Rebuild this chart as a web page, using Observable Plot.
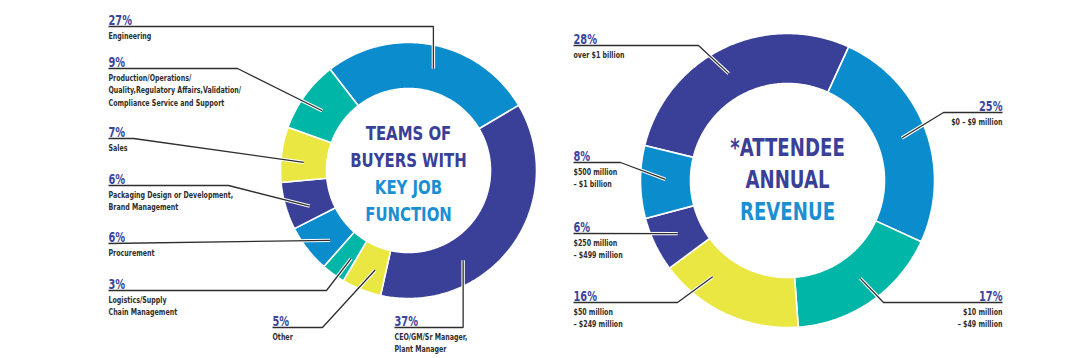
<!DOCTYPE html>
<html><head><meta charset="utf-8">
<script src="https://cdn.jsdelivr.net/npm/d3@7"></script>
<script src="https://cdn.jsdelivr.net/npm/@observablehq/plot@0.6"></script>
<style>html,body{margin:0;padding:0;background:#fff;}#chart svg{display:block}</style>
</head><body><div id="chart"></div>
<script>
// ---------- data ----------
const jobCategories = [
  "Engineering",
  "CEO/GM/Sr Manager,\nPlant Manager",
  "Other",
  "Logistics/Supply\nChain Management",
  "Procurement",
  "Packaging Design or Development,\nBrand Management",
  "Sales",
  "Production/Operations/\nQuality,Regulatory Affairs,Validation/\nCompliance Service and Support"
];
const jobShares = [27, 37, 5, 3, 6, 6, 7, 9];
const jobTitle = ["TEAMS OF", "BUYERS WITH", "KEY JOB", "FUNCTION"];

const revenueCategories = [
  "over $1 billion",
  "$0 – $9 million",
  "$10 million\n– $49 million",
  "$50 million\n– $249 million",
  "$250 million\n– $499 million",
  "$500 million\n– $1 billion"
];
const revenueShares = [28, 25, 17, 16, 6, 8];
const revenueTitle = ["*ATTENDEE", "ANNUAL", "REVENUE"];

// ---------- styles / layout ----------
const NAVY = "#3a4098", BLUE = "#0b8ccd", TEAL = "#00b6a7", YELLOW = "#ebe742";
const PCT = "#3c449e", TITLE_LIGHT = "#1a8fd2", INK = "#2e2e2e";
const FONT = "'Liberation Sans Narrow', 'DejaVu Sans Condensed', sans-serif";
const jobColors = [BLUE, NAVY, YELLOW, TEAL, BLUE, NAVY, YELLOW, TEAL];
const revenueColors = [NAVY, BLUE, TEAL, YELLOW, NAVY, BLUE];
// horizontal condensing per font size (to mimic a condensed display face)
const squeeze = {9: 0.78, 14: 0.78, 20: 0.83, 24: 0.84};

// label layout: [labelX, lineY, elbowX ("v" vertical / "h" direct), textAnchor, position within slice]
const jobLabelLayout = [
  [108, 26, "v", "start", 0.53],
  [394, 327, "v", "start", 0.67],
  [272, 327, 322, "start", 0.33],
  [108, 290, 326, "start", 0.23],
  [108, 243, "h", "start", 0.32],
  [108, 185, 228, "start", 0.33],
  [108, 138, 133, "start", 0.39],
  [108, 68, 237, "start", 0.46]
];
const revenueLabelLayout = [
  [573, 45, 698, "start", 0.47],
  [1002, 112, 943, "end", 0.5],
  [1002, 302, 883, "end", 0.47],
  [573, 302, 677, "start", 0.73],
  [573, 233, "h", "start", 0.5],
  [573, 162, 620, "start", 0.54]
];

const donuts = [
  {id: "job", cats: jobCategories, vals: jobShares, colors: jobColors, layout: jobLabelLayout,
   cx: 408, cy: 170, r0: 82, r1: 128, start: -37.8,
   title: jobTitle, titleColors: [NAVY, NAVY, TITLE_LIGHT, TITLE_LIGHT], titleSize: 20, titleY: 139, titleStep: 27},
  {id: "rev", cats: revenueCategories, vals: revenueShares, colors: revenueColors, layout: revenueLabelLayout,
   cx: 787, cy: 180, r0: 97, r1: 147, start: -76.2,
   title: revenueTitle, titleColors: [NAVY, NAVY, TITLE_LIGHT], titleSize: 24, titleY: 155, titleStep: 32}
];

// ---------- build mark data ----------
const rad = d => d * Math.PI / 180;
const slicePts = [], leaderPts = [], pctText = [], subText = [], titleText = [];

for (const D of donuts) {
  const total = d3.sum(D.vals);
  const pos = (a, r) => ({x: D.cx + r * Math.sin(rad(a)), y: D.cy - r * Math.cos(rad(a))});
  let cum = 0;
  D.vals.forEach((v, i) => {
    const a0 = D.start + cum / total * 360, a1 = D.start + (cum + v) / total * 360;
    const key = D.id + i, n = Math.max(2, Math.ceil((a1 - a0) / 0.75));
    for (let k = 0; k <= n; k++) { const p = pos(a0 + (a1 - a0) * k / n, D.r1); slicePts.push({key, color: D.colors[i], ...p}); }
    for (let k = n; k >= 0; k--) { const p = pos(a0 + (a1 - a0) * k / n, D.r0); slicePts.push({key, color: D.colors[i], ...p}); }

    const [lx, ly, ex, anchor, t] = D.layout[i];
    const anc = pos(D.start + (cum + t * v) / total * 360, (D.r0 + D.r1) / 2);
    const pts = [{x: lx, y: ly}];
    if (ex === "v") pts.push({x: anc.x, y: ly});
    else if (ex !== "h") pts.push({x: ex, y: ly});
    pts.push(anc);
    pts.forEach(p => leaderPts.push({key, ...p}));

    pctText.push({x: lx, y: ly - 2, text: v + "%", anchor});
    D.cats[i].split("\n").forEach((s, j) => subText.push({x: lx, y: ly + 12 + j * 12.5, text: s, anchor}));
    cum += v;
  });
  D.title.forEach((s, j) => titleText.push({x: D.cx, y: D.titleY + j * D.titleStep, text: s, color: D.titleColors[j], size: D.titleSize}));
}

const byAnchor = (arr, a) => arr.filter(d => d.anchor === a);

const chart = Plot.plot({
  width: 1080, height: 358,
  marginTop: 0, marginRight: 0, marginBottom: 0, marginLeft: 0,
  x: {domain: [0, 1080], range: [0, 1080], axis: null},
  y: {domain: [0, 358], range: [0, 358], axis: null},
  color: {type: "identity"},
  style: {background: "white", fontFamily: FONT},
  marks: [
    Plot.line(slicePts, {x: "x", y: "y", z: "key", fill: "color", stroke: "white", strokeWidth: 1.6, curve: "linear-closed", strokeLinejoin: "miter"}),
    Plot.line(leaderPts, {x: "x", y: "y", z: "key", stroke: "white", strokeWidth: 3.4, strokeLinejoin: "miter", strokeLinecap: "butt"}),
    Plot.line(leaderPts, {x: "x", y: "y", z: "key", stroke: INK, strokeWidth: 1.3, strokeLinejoin: "miter", strokeLinecap: "butt"}),
    ...["start", "end"].map(a => Plot.text(byAnchor(pctText, a), {x: "x", y: "y", text: "text", textAnchor: a, lineAnchor: "bottom", fontSize: 14, fontWeight: 700, fill: PCT})),
    ...["start", "end"].map(a => Plot.text(byAnchor(subText, a), {x: "x", y: "y", text: "text", textAnchor: a, lineAnchor: "bottom", fontSize: 9, fontWeight: 700, fill: INK})),
    ...[20, 24].map(sz => Plot.text(titleText.filter(d => d.size === sz), {x: "x", y: "y", text: "text", textAnchor: "middle", lineAnchor: "bottom", fontSize: sz, fontWeight: 700, fill: "color"}))
  ]
});

// condense text horizontally around its anchor point
d3.select(chart).selectAll("g[aria-label=text]").each(function () {
  const s = squeeze[+this.getAttribute("font-size")] || 1;
  d3.select(this).selectAll("text").attr("transform", function () {
    return (this.getAttribute("transform") || "") + ` scale(${s},1)`;
  });
});
document.getElementById("chart").appendChild(chart);
</script>
</body></html>
